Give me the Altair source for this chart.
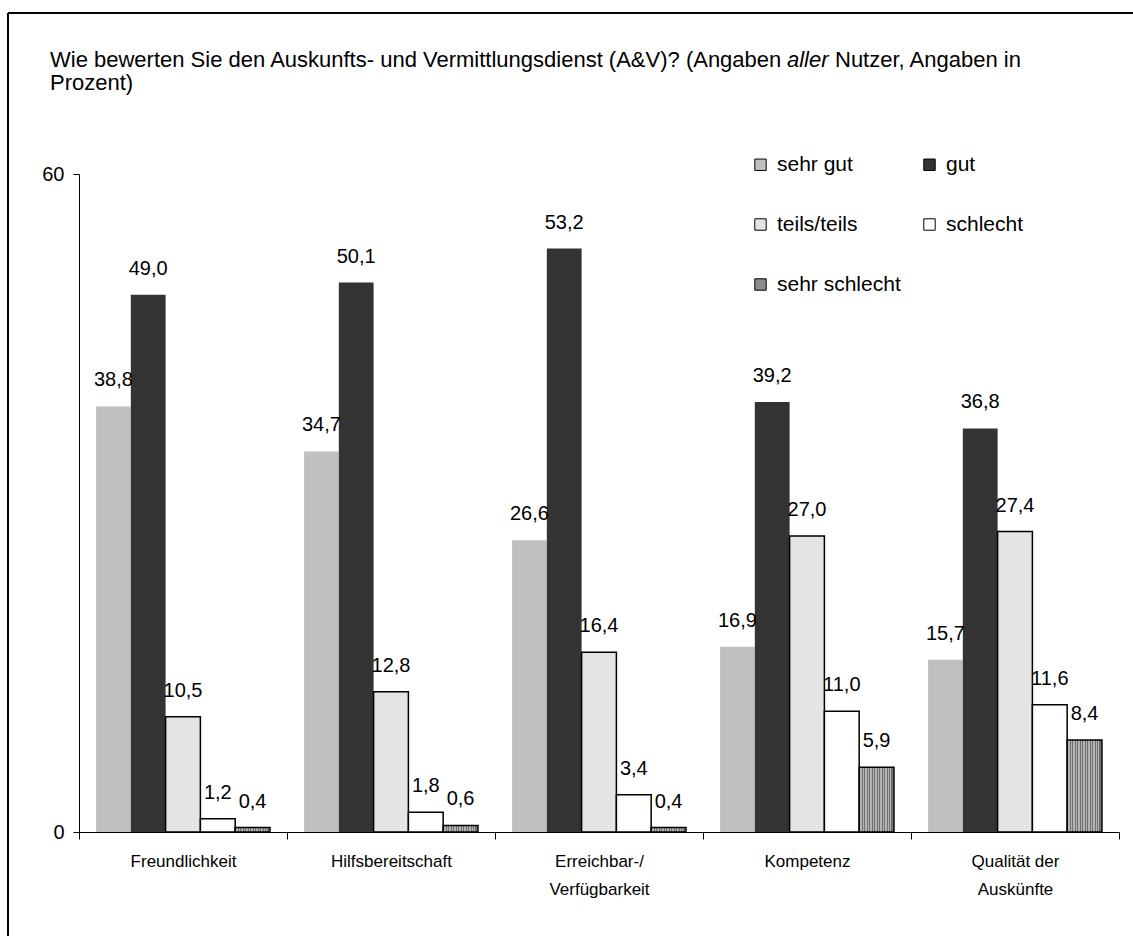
import altair as alt
import pandas as pd

# Survey categories (line breaks are rendered on the axis)
categories = [
    "Freundlichkeit",
    "Hilfsbereitschaft",
    "Erreichbar-/\nVerfügbarkeit",
    "Kompetenz",
    "Qualität der\nAuskünfte",
]
series = ["sehr gut", "gut", "teils/teils", "schlecht", "sehr schlecht"]

sehr_gut = [38.8, 34.7, 26.6, 16.9, 15.7]
gut = [49.0, 50.1, 53.2, 39.2, 36.8]
teils_teils = [10.5, 12.8, 16.4, 27.0, 27.4]
schlecht = [1.2, 1.8, 3.4, 11.0, 11.6]
sehr_schlecht = [0.4, 0.6, 0.4, 5.9, 8.4]

values_by_series = [sehr_gut, gut, teils_teils, schlecht, sehr_schlecht]

rows = []
for s, vals in zip(series, values_by_series):
    for c, v in zip(categories, vals):
        rows.append({"kategorie": c, "bewertung": s, "prozent": v,
                     "label": f"{v:.1f}".replace(".", ",")})
df = pd.DataFrame(rows)

FONT = "Liberation Sans"

colors = ["#c0c0c0", "#333333", "#e4e4e4", "#ffffff", "#8c8c8c"]

# vertical hatching for the "sehr schlecht" bars
n_stripes = 14
stripe_stops = []
for i in range(n_stripes):
    a, m, b = i / n_stripes, (i + 0.5) / n_stripes, (i + 1) / n_stripes
    stripe_stops += [
        {"offset": a, "color": "#6e6e6e"},
        {"offset": m, "color": "#6e6e6e"},
        {"offset": m, "color": "#b4b4b4"},
        {"offset": b, "color": "#b4b4b4"},
    ]
stripes = {"gradient": "linear", "x1": 0, "y1": 0, "x2": 1, "y2": 0,
           "stops": stripe_stops}

x_enc = alt.X(
    "kategorie:N",
    sort=categories,
    scale=alt.Scale(paddingInner=0, paddingOuter=0),
    axis=alt.Axis(
        title=None,
        labelAngle=0,
        tickBand="extent",
        tickSize=7,
        labelPadding=14,
        labelFont=FONT,
        labelFontSize=17,
        labelColor="black",
        labelLineHeight=28,
        labelExpr="split(datum.label, '\\n')",
        domainColor="black",
        tickColor="black",
    ),
)
xoff_enc = alt.XOffset(
    "bewertung:N", sort=series,
    scale=alt.Scale(paddingOuter=0.49, paddingInner=0),
)
y_enc = alt.Y(
    "prozent:Q",
    scale=alt.Scale(domain=[0, 60], nice=False),
    axis=alt.Axis(
        title=None,
        values=[0, 60],
        grid=False,
        tickSize=6,
        labelPadding=9,
        labelFont=FONT,
        labelFontSize=20,
        labelColor="black",
        domainColor="black",
        tickColor="black",
    ),
)

bars = alt.Chart(df).mark_bar(stroke="black").encode(
    x=x_enc,
    xOffset=xoff_enc,
    y=y_enc,
    fill=alt.condition(
        "datum.bewertung === 'sehr schlecht'",
        alt.value(stripes),
        alt.Fill(
            "bewertung:N",
            sort=series,
            scale=alt.Scale(domain=series, range=colors),
            legend=alt.Legend(
                title=None,
                orient="none",
                legendX=671,
                legendY=-20,
                columns=2,
                direction="horizontal",
                symbolType="square",
                symbolSize=130,
                symbolStrokeColor="black",
                symbolStrokeWidth=1,
                labelFont=FONT,
                labelFontSize=21,
                labelColor="black",
                labelOffset=6,
                rowPadding=38,
                columnPadding=18,
            ),
        ),
    ),
    strokeWidth=alt.condition(
        "datum.bewertung === 'sehr gut' || datum.bewertung === 'gut'",
        alt.value(0),
        alt.value(1.5),
    ),
)

labels = alt.Chart(df).mark_text(
    dy=-26, baseline="middle", align="center",
    font=FONT, fontSize=20, color="black",
).encode(
    x=alt.X("kategorie:N", sort=categories),
    xOffset=alt.XOffset("bewertung:N", sort=series),
    y="prozent:Q",
    text="label:N",
)

one = alt.Data(values=[{}])
title_style = dict(font=FONT, fontSize=22, color="black", align="left",
                   baseline="middle")
t1 = alt.Chart(one).mark_text(
    text="Wie bewerten Sie den Auskunfts- und Vermittlungsdienst (A&V)? (Angaben",
    **title_style,
).encode(x=alt.value(-29), y=alt.value(-114))
t2 = alt.Chart(one).mark_text(text="aller", fontStyle="italic", **title_style).encode(
    x=alt.value(708), y=alt.value(-114))
t3 = alt.Chart(one).mark_text(text="Nutzer, Angaben in", **title_style).encode(
    x=alt.value(756), y=alt.value(-114))
t4 = alt.Chart(one).mark_text(text="Prozent)", **title_style).encode(
    x=alt.value(-29), y=alt.value(-91))

# outer frame
frame_left = alt.Chart(one).mark_rule(color="black", strokeWidth=2).encode(
    x=alt.value(-71), y=alt.value(-161), y2=alt.value(780))
frame_top = alt.Chart(one).mark_rule(color="black", strokeWidth=2).encode(
    x=alt.value(-71), x2=alt.value(1070), y=alt.value(-161))

chart = alt.layer(
    bars, labels, t1, t2, t3, t4, frame_left, frame_top
).properties(
    width=1040,
    height=658,
    autosize=alt.AutoSizeParams(type="none"),
    padding={"left": 79, "top": 174, "right": 14, "bottom": 104},
    background="white",
).configure_view(strokeWidth=0)

chart.save("out.html", embed_options={"renderer": "svg", "actions": False})
